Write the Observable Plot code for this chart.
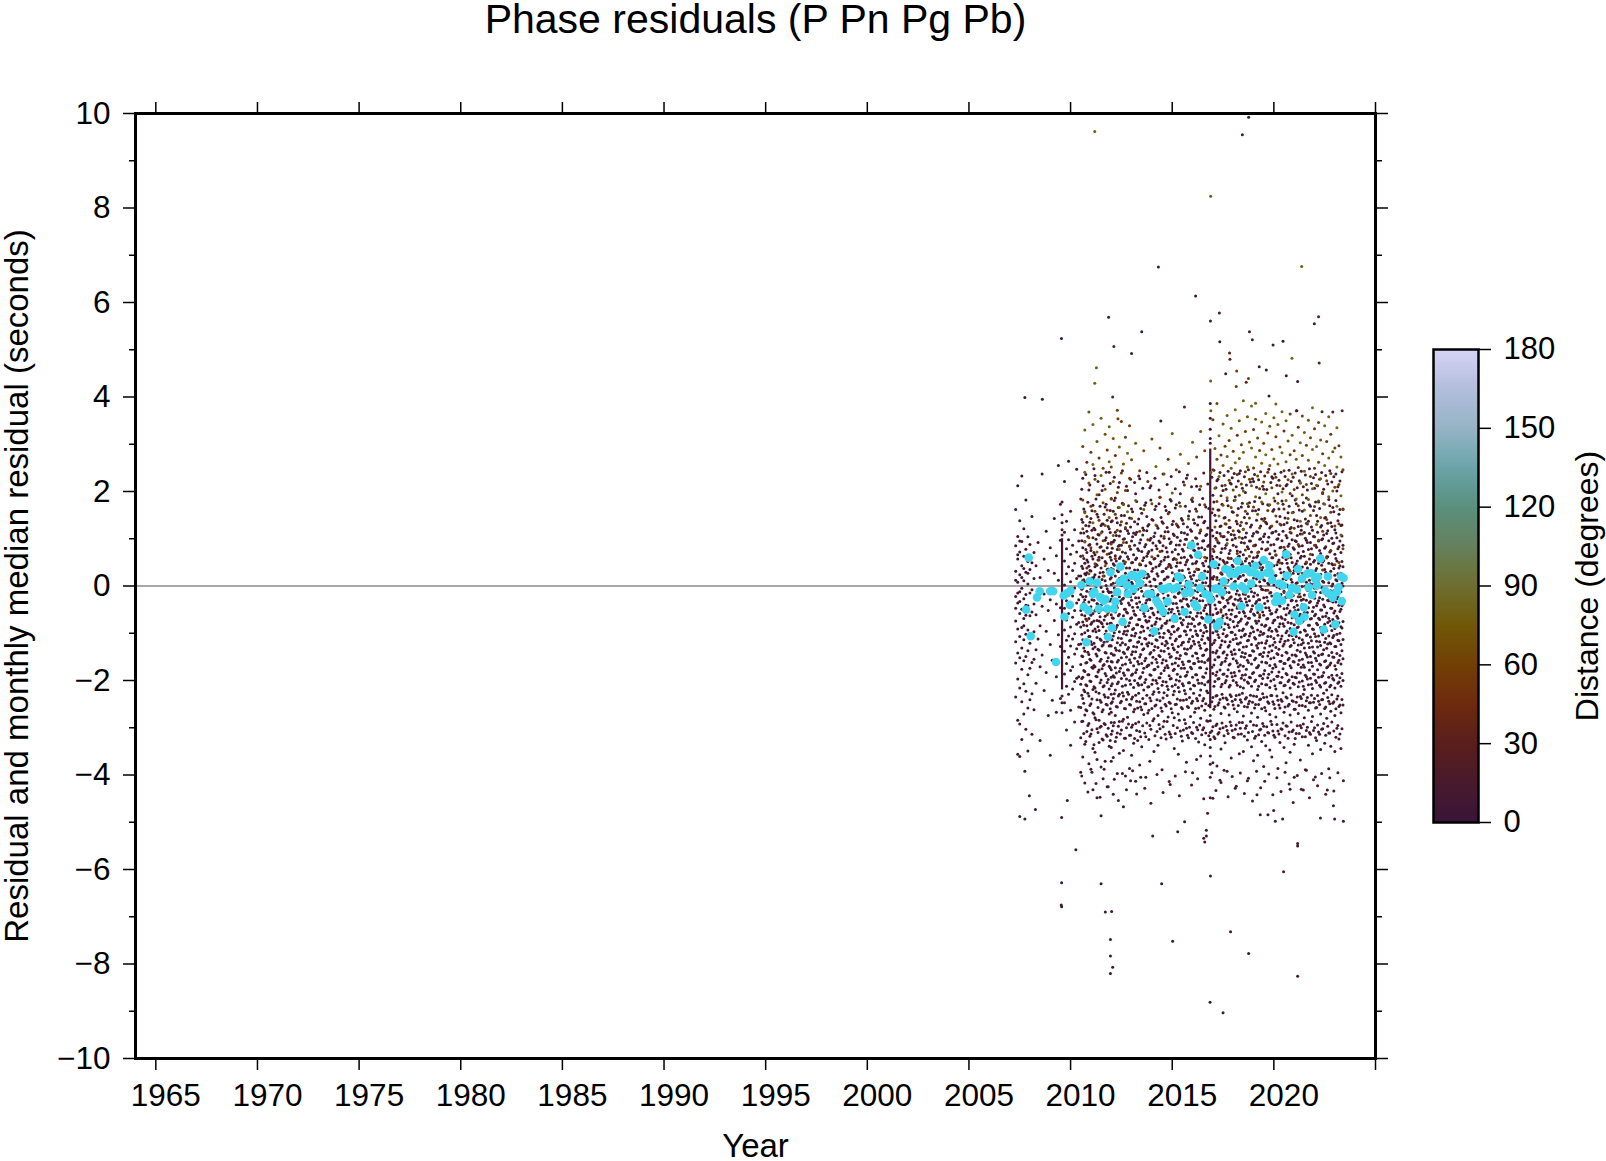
<!DOCTYPE html>
<html><head><meta charset="utf-8">
<script src="https://cdn.jsdelivr.net/npm/d3@7"></script>
<script src="https://cdn.jsdelivr.net/npm/@observablehq/plot@0.6"></script>
<style>
html,body{margin:0;padding:0;background:#fff;}
#wrap{position:relative;width:1606px;height:1161px;overflow:hidden;background:#fff;}
#main{position:absolute;left:0;top:0;}
#bar{position:absolute;left:1406px;top:320px;}
</style></head><body><div id="wrap"><div id="main"></div><div id="bar"></div></div>
<script>
const chartTitle = "Phase residuals (P Pn Pg Pb)";
const xLabel = "Year";
const yLabel = "Residual and monthly median residual (seconds)";
const colorLabel = "Distance (degrees)";
const xTicks = [1965,1970,1975,1980,1985,1990,1995,2000,2005,2010,2015,2020,2025];
const yMajorTicks = [-10,-8,-6,-4,-2,0,2,4,6,8,10];
const yMinorTicks = [-9,-7,-5,-3,-1,1,3,5,7,9];
const colorTicks = [0,30,60,90,120,150,180];
const distanceStops = [0,15,30,45,60,75,90,105,120,135,150,165,180];
const distanceColors = ["#3a1438","#481a2c","#5a1e1c","#6e2a0e","#723f04","#705808","#6e6e30","#65805c","#5a907e","#6aa4a8","#96b4c6","#b2bedb","#d7d3f8"];

// monthly median residuals [year, seconds]
const monthlyMedians = [
[2007.81,-0.50],[2007.94,0.60],[2008.04,-1.06],[2008.35,-0.24],[2008.48,-0.11],[2009.00,-0.11],[2009.14,-0.11],[2009.28,-1.61],
[2009.66,-0.20],[2009.70,-0.65],[2009.83,-0.15],[2009.96,-0.40],[2009.99,-0.10],[2010.53,0.02],[2010.65,-0.44],[2010.78,-1.19],
[2010.88,-0.52],[2010.94,0.10],[2011.10,-0.17],[2011.17,-0.12],[2011.30,0.07],[2011.39,-0.48],[2011.46,-0.24],[2011.63,-0.31],
[2011.72,-0.28],[2011.80,-0.48],[2011.84,-1.08],[2011.96,0.29],[2012.04,-0.89],[2012.12,-0.48],[2012.20,-0.33],[2012.29,-0.13],
[2012.42,0.08],[2012.45,0.41],[2012.56,-0.76],[2012.61,0.15],[2012.78,0.01],[2012.81,-0.17],[2012.98,0.22],[2013.10,-0.06],
[2013.14,0.22],[2013.27,0.19],[2013.40,0.06],[2013.52,0.26],[2013.63,-0.47],[2013.80,-0.17],[2013.96,-0.17],[2014.12,-0.96],
[2014.22,-0.31],[2014.33,-0.38],[2014.42,-0.45],[2014.50,-0.06],[2014.55,-0.55],[2014.66,-0.06],[2014.77,-0.33],[2014.83,-0.03],
[2015.07,-0.06],[2015.12,-0.69],[2015.24,-0.03],[2015.29,0.20],[2015.40,0.17],[2015.61,-0.55],[2015.64,-0.15],[2015.81,0.03],
[2015.89,-0.13],[2015.94,0.86],[2016.10,-0.38],[2016.22,-0.45],[2016.27,0.66],[2016.38,-0.04],[2016.47,0.20],[2016.63,-0.17],
[2016.77,-0.71],[2016.80,-0.20],[2016.88,-0.29],[2017.04,0.46],[2017.12,-0.06],[2017.20,-0.85],[2017.29,-0.06],[2017.33,-0.76],
[2017.45,-0.13],[2017.53,0.10],[2017.61,0.36],[2017.78,0.33],[2017.86,0.26],[2018.02,-0.01],[2018.10,0.26],[2018.22,0.53],
[2018.27,0.33],[2018.40,-0.43],[2018.44,-0.01],[2018.52,0.36],[2018.60,-0.08],[2018.68,0.36],[2018.84,0.29],[2018.89,0.05],
[2019.09,0.43],[2019.12,0.26],[2019.28,-0.45],[2019.33,0.22],[2019.50,0.55],[2019.66,0.28],[2019.78,0.43],[2019.83,0.28],
[2019.91,0.13],[2020.07,-0.34],[2020.15,-0.22],[2020.24,-0.31],[2020.27,0.05],[2020.40,-0.31],[2020.45,0.01],[2020.61,0.67],
[2020.64,0.22],[2020.77,-0.19],[2020.89,-0.04],[2020.97,-0.97],[2021.02,-0.61],[2021.13,-0.08],[2021.19,0.36],[2021.25,-0.74],
[2021.38,0.15],[2021.47,-0.45],[2021.51,-0.65],[2021.63,0.26],[2021.71,-0.03],[2021.84,0.27],[2021.88,-0.19],[2022.04,0.15],
[2022.12,0.01],[2022.17,0.19],[2022.29,0.58],[2022.45,-0.92],[2022.53,-0.10],[2022.66,0.20],[2022.73,-0.17],[2022.89,-0.25],
[2023.02,-0.81],[2023.10,-0.13],[2023.18,-0.03],[2023.31,0.20],[2023.34,-0.32],[2023.43,0.17]
];

// dense vertical clusters of picks [year, low, high, distance]
const streaks = [[2009.58,-2.2,1.0,5],[2016.87,-2.6,2.9,5]];

// near-station residuals (distance ~8 deg), by time column [year, residuals]
const nearColumns = [
[2007.3,[1.62,0.85,0.31,-0.22,-0.74,-1.18,-1.63,-2.35,-0.47,0.12]],
[2007.4,[2.12,1.05,0.57,0.08,-0.36,-0.91,-1.42,-1.97,-2.84,-3.56,0.66,-0.15]],
[2007.5,[1.38,0.72,0.24,-0.12,-0.58,-1.07,-1.52,-2.16,-2.92,-3.61,0.95,-0.33]],
[2007.6,[2.33,0.94,0.43,-0.05,-0.49,-0.88,-1.31,-1.76,-2.45,-3.25,0.18]],
[2007.7,[1.21,0.63,0.11,-0.27,-0.69,-1.14,-1.58,-2.07,-2.71,0.37,-0.84]],
[2007.8,[1.82,0.78,0.29,-0.18,-0.62,-1.02,-1.49,-2.23,-3.03,-0.41]],
[2007.9,[1.04,0.52,0.04,-0.42,-0.93,-1.37,-1.88,-2.58,-3.49,0.27]],
[2008.0,[0.88,0.35,-0.15,-0.63,-1.21,-1.74,-2.41,0.62]],
[2008.1,[1.47,0.49,-0.08,-0.55,-1.03,-1.62,-2.28,-3.14]],
[2008.2,[0.71,0.16,-0.38,-0.97,-1.55,-2.62]],
[2008.3,[0.43,-0.61,-1.35,-2.06]],
[2008.4,[0.92,-0.22,-1.12]],
[2008.5,[0.18,-0.84,-1.71,-3.27]],
[2008.6,[2.37,-0.43,-1.46]],
[2008.7,[0.57,-0.17,-2.21]],
[2008.8,[1.16,-0.96,-1.83]],
[2008.9,[0.33,-0.52,-2.74]],
[2009.0,[0.81,-0.29,-1.24,-3.58]],
[2009.1,[-0.06,-1.57,-2.42]],
[2009.2,[1.43,0.27,-0.73]],
[2009.3,[0.64,-0.38,-1.92,-2.67]],
[2009.4,[2.55,0.12,-1.03,-1.61]],
[2009.5,[0.97,-0.46,-1.28,-2.38,1.73]],
[2009.58,[1.78,1.51,1.34,1.19,1.08,-2.33,-2.47,-2.68]],
[2009.7,[2.21,1.14,0.53,0.02,-0.47,-0.93,-1.38,-1.86,-2.47]],
[2009.8,[1.37,0.79,0.26,-0.31,-0.72,-1.15,-1.64,-2.12,-3.05]],
[2009.9,[2.64,0.98,0.41,-0.13,-0.58,-1.06,-1.51,-2.29]],
[2010.0,[1.58,0.67,0.09,-0.44,-0.87,-1.27,-1.79,-2.63,-3.37]],
[2010.1,[0.86,0.33,-0.21,-0.66,-1.12,-1.71,-2.18]],
[2010.2,[1.19,0.48,-0.04,-0.52,-1.01,-1.44,-2.02,-2.88]],
[2010.3,[2.47,0.72,0.16,-0.36,-0.81,-1.33,-1.95]],
[2010.4,[0.95,0.21,-0.29,-0.77,-1.24,-1.92,-2.56]],
[2010.5,[1.84,1.12,0.63,0.21,-0.18,-0.52,-0.87,-1.23,-1.66,-2.08,-2.57,-3.21,-3.94]],
[2010.6,[2.28,1.35,0.81,0.37,-0.04,-0.41,-0.76,-1.14,-1.49,-1.93,-2.38,-2.86,-3.62,-0.23]],
[2010.7,[1.57,0.94,0.48,0.09,-0.29,-0.63,-0.99,-1.38,-1.81,-2.24,-2.73,-3.35,-4.17,0.26]],
[2010.8,[1.16,0.71,0.28,-0.11,-0.47,-0.84,-1.21,-1.62,-2.11,-2.64,-3.08,0.55]],
[2010.9,[2.03,1.27,0.86,0.42,0.03,-0.34,-0.69,-1.07,-1.45,-1.88,-2.33,-2.91,-3.76]],
[2011.0,[1.43,0.75,0.32,-0.07,-0.44,-0.81,-1.18,-1.57,-2.02,-2.49,-3.13,-3.88,-0.62]],
[2011.1,[1.71,1.02,0.57,0.15,-0.22,-0.58,-0.95,-1.33,-1.74,-2.19,-2.68,-3.44,-4.31]],
[2011.2,[2.34,1.19,0.66,0.24,-0.16,-0.53,-0.91,-1.29,-1.71,-2.16,-2.79,-3.52,0.41]],
[2011.3,[1.52,0.89,0.44,0.02,-0.37,-0.73,-1.09,-1.48,-1.92,-2.41,-3.02,-3.67,-4.48]],
[2011.4,[1.93,1.08,0.61,0.19,-0.2,-0.56,-0.94,-1.36,-1.78,-2.27,-2.84,-3.31,-0.74]],
[2011.5,[1.28,0.83,0.38,-0.03,-0.41,-0.77,-1.15,-1.55,-1.99,-2.46,-2.97,-3.83]],
[2011.6,[2.12,1.31,0.74,0.29,-0.12,-0.49,-0.86,-1.25,-1.68,-2.13,-2.62,-3.26,-4.08]],
[2011.7,[1.67,0.97,0.52,0.11,-0.27,-0.64,-1.02,-1.41,-1.85,-2.35,-2.93,-3.71]],
[2011.8,[1.39,0.81,0.35,-0.06,-0.43,-0.8,-1.17,-1.59,-2.04,-2.52,-3.18,-4.25]],
[2011.9,[2.41,1.21,0.68,0.26,-0.14,-0.51,-0.89,-1.27,-1.7,-2.18,-2.71,-3.39,-0.32]],
[2012.0,[0.92,0.71,0.55,0.37,0.18,0.03,-0.13,-0.28,-0.46,-0.61,-0.79,-0.94,-1.12,-1.27,-1.43,-1.6,-1.77,-1.93,-2.11,-2.29,-2.48,-2.67,-2.89,-3.14,-3.42,-3.71,1.36,1.84]],
[2012.1,[1.58,0.93,0.47,0.06,-0.32,-0.68,-1.06,-1.46,-1.9,-2.38,-2.96,-3.63,-4.41]],
[2012.2,[1.86,1.14,0.64,0.21,-0.18,-0.55,-0.92,-1.31,-1.73,-2.2,-2.74,-3.29]],
[2012.3,[1.34,0.77,0.33,-0.08,-0.46,-0.83,-1.2,-1.61,-2.07,-2.56,-3.11,-3.97]],
[2012.4,[2.19,1.06,0.58,0.16,-0.23,-0.6,-0.97,-1.37,-1.81,-2.29,-2.87,-3.54,0.86]],
[2012.5,[1.49,0.86,0.41,0.01,-0.37,-0.74,-1.11,-1.52,-1.96,-2.44,-3.05]],
[2012.6,[1.73,0.99,0.53,0.12,-0.26,-0.63,-1.01,-1.4,-1.84,-2.33,-2.82,-3.48]],
[2012.7,[1.21,0.7,0.27,-0.12,-0.49,-0.86,-1.24,-1.65,-2.1,-2.6,-3.22,-4.02]],
[2012.8,[2.02,1.17,0.62,0.19,-0.2,-0.57,-0.95,-1.34,-1.77,-2.25,-2.78]],
[2012.9,[1.44,0.84,0.38,-0.03,-0.4,-0.78,-1.16,-1.56,-2.0,-2.51,-3.16,-3.86]],
[2013.0,[1.63,0.95,0.49,0.08,-0.3,-0.67,-1.05,-1.45,-1.89,-2.39,-2.99,-3.58]],
[2013.1,[1.12,0.66,0.23,-0.16,-0.53,-0.9,-1.28,-1.69,-2.15,-2.66,-3.33]],
[2013.2,[1.95,1.09,0.56,0.14,-0.25,-0.62,-1.0,-1.39,-1.83,-2.31,-2.91,-4.13]],
[2013.3,[1.31,0.79,0.34,-0.07,-0.45,-0.82,-1.19,-1.6,-2.06,-2.58,-3.27]],
[2013.4,[2.27,0.91,0.45,0.04,-0.34,-0.71,-1.09,-1.5,-1.95,-2.45,-3.08,-3.79]],
[2013.5,[1.54,0.73,0.29,-0.11,-0.48,-0.85,-1.23,-1.64,-2.09,-2.62,-3.4]],
[2013.6,[1.18,0.6,0.18,-0.21,-0.58,-0.95,-1.33,-1.74,-2.2,-2.72]],
[2013.7,[1.76,0.88,0.43,0.02,-0.36,-0.73,-1.12,-1.53,-1.98,-2.49,-3.19,-4.05]],
[2013.8,[1.27,0.69,0.25,-0.15,-0.52,-0.89,-1.27,-1.68,-2.14,-2.69]],
[2013.9,[2.08,0.97,0.5,0.09,-0.29,-0.66,-1.04,-1.44,-1.88,-2.37,-2.95,-3.71]],
[2014.0,[1.41,0.76,0.31,-0.09,-0.47,-0.84,-1.22,-1.63,-2.08,-2.59]],
[2014.1,[1.05,0.57,0.15,-0.24,-0.61,-0.98,-1.36,-1.77,-2.24,-2.81,-3.5]],
[2014.2,[1.69,0.85,0.4,-0.01,-0.39,-0.76,-1.14,-1.55,-2.0,-2.52]],
[2014.3,[1.22,0.64,0.21,-0.18,-0.55,-0.92,-1.3,-1.71,-2.17,-2.74,-3.37]],
[2014.4,[1.88,0.92,0.46,0.05,-0.33,-0.7,-1.08,-1.49,-1.94,-2.43,-3.02]],
[2014.5,[1.36,0.74,0.3,-0.1,-0.47,-0.84,-1.22,-1.63,-2.1,-2.65,-3.89]],
[2014.6,[1.01,0.55,0.13,-0.26,-0.63,-1.0,-1.38,-1.79,-2.26,-2.86]],
[2014.7,[1.6,0.81,0.37,-0.04,-0.42,-0.79,-1.17,-1.58,-2.03,-2.54,-3.24]],
[2014.8,[1.15,0.62,0.19,-0.2,-0.57,-0.94,-1.32,-1.73,-2.19,-2.77]],
[2014.9,[1.83,0.9,0.44,0.03,-0.35,-0.72,-1.1,-1.51,-1.97,-2.48,-3.14,-4.2]],
[2015.0,[1.3,0.72,0.28,-0.12,-0.49,-0.86,-1.24,-1.65,-2.12,-2.68]],
[2015.1,[1.07,0.58,0.16,-0.23,-0.6,-0.97,-1.35,-1.76,-2.23,-2.79,-3.44]],
[2015.2,[1.72,0.87,0.42,0.01,-0.37,-0.74,-1.12,-1.53,-1.99,-2.5]],
[2015.3,[1.25,0.67,0.24,-0.16,-0.53,-0.9,-1.28,-1.69,-2.15,-2.71,-3.56]],
[2015.4,[1.95,0.96,0.49,0.07,-0.31,-0.68,-1.06,-1.47,-1.92,-2.42,-3.07]],
[2015.5,[1.39,0.78,0.33,-0.07,-0.45,-0.82,-1.2,-1.61,-2.07,-2.6,-3.28]],
[2015.6,[1.12,0.61,0.18,-0.21,-0.58,-0.95,-1.33,-1.74,-2.21,-2.83]],
[2015.7,[2.28,0.99,0.51,0.1,-0.28,-0.65,-1.03,-1.44,-1.89,-2.4,-3.01,-3.73]],
[2015.8,[1.48,0.82,0.36,-0.05,-0.43,-0.8,-1.18,-1.59,-2.05,-2.57,-3.21]],
[2015.9,[1.19,0.64,0.2,-0.19,-0.56,-0.93,-1.31,-1.72,-2.18,-2.76]],
[2016.0,[1.79,0.93,0.47,0.06,-0.32,-0.69,-1.07,-1.48,-1.93,-2.44,-3.12,-3.95]],
[2016.1,[1.33,0.75,0.3,-0.1,-0.48,-0.85,-1.23,-1.64,-2.11,-2.67]],
[2016.2,[2.11,1.01,0.52,0.11,-0.27,-0.64,-1.02,-1.43,-1.88,-2.38,-2.99,-3.67]],
[2016.3,[1.46,0.8,0.35,-0.06,-0.44,-0.81,-1.19,-1.6,-2.06,-2.58,-3.3]],
[2016.4,[1.17,0.63,0.19,-0.2,-0.57,-0.94,-1.32,-1.73,-2.2,-2.8,-3.6]],
[2016.5,[1.85,0.95,0.48,0.07,-0.31,-0.68,-1.06,-1.47,-1.92,-2.43,-3.04]],
[2016.6,[1.37,0.77,0.32,-0.08,-0.46,-0.83,-1.21,-1.62,-2.09,-2.63,-3.36]],
[2016.7,[1.09,0.59,0.17,-0.22,-0.59,-0.96,-1.34,-1.75,-2.22,-2.85]],
[2016.8,[1.64,0.86,0.41,0.0,-0.38,-0.75,-1.13,-1.54,-2.01,-2.53,-3.17]],
[2016.87,[3.86,3.55,3.32,3.12,3.02,-2.74,-2.85,-3.1,-3.25,-3.42,-3.6,-3.77,-4.05,-4.48]],
[2017.0,[1.92,1.06,0.57,0.15,-0.24,-0.61,-0.99,-1.4,-1.85,-2.36,-2.98,-3.74,-4.49]],
[2017.1,[1.5,0.84,0.39,-0.02,-0.4,-0.77,-1.15,-1.56,-2.02,-2.55,-3.23]],
[2017.2,[2.23,1.13,0.61,0.18,-0.21,-0.58,-0.96,-1.37,-1.82,-2.32,-2.92,-3.81]],
[2017.3,[1.61,0.91,0.45,0.04,-0.34,-0.71,-1.09,-1.5,-1.96,-2.47,-3.1]],
[2017.4,[1.27,0.71,0.27,-0.13,-0.5,-0.87,-1.25,-1.66,-2.13,-2.7,-3.45,-4.16]],
[2017.5,[2.02,1.04,0.54,0.12,-0.26,-0.63,-1.01,-1.42,-1.87,-2.37,-3.0]],
[2017.6,[1.45,0.8,0.35,-0.05,-0.43,-0.8,-1.18,-1.59,-2.05,-2.58,-3.32]],
[2017.7,[1.81,0.98,0.5,0.08,-0.3,-0.67,-1.05,-1.46,-1.91,-2.41,-3.06,-3.92]],
[2017.8,[1.24,0.69,0.26,-0.14,-0.51,-0.88,-1.26,-1.67,-2.14,-2.73]],
[2017.9,[2.16,1.09,0.58,0.16,-0.23,-0.6,-0.98,-1.39,-1.84,-2.34,-2.95,-3.64]],
[2018.0,[1.56,0.86,0.41,0.0,-0.38,-0.75,-1.13,-1.54,-2.0,-2.52,-3.2]],
[2018.1,[1.89,1.01,0.52,0.1,-0.28,-0.65,-1.03,-1.44,-1.9,-2.4,-3.03,-4.28]],
[2018.2,[1.32,0.74,0.3,-0.1,-0.47,-0.84,-1.22,-1.63,-2.1,-2.66]],
[2018.3,[2.38,1.15,0.63,0.2,-0.19,-0.56,-0.94,-1.35,-1.8,-2.3,-2.89,-3.55]],
[2018.4,[1.67,0.92,0.46,0.05,-0.33,-0.7,-1.08,-1.49,-1.95,-2.46,-3.13]],
[2018.5,[1.2,0.66,0.23,-0.17,-0.54,-0.91,-1.29,-1.7,-2.16,-2.75,-3.5]],
[2018.6,[1.98,1.03,0.53,0.11,-0.27,-0.64,-1.02,-1.43,-1.88,-2.39,-3.01]],
[2018.7,[1.53,0.83,0.38,-0.03,-0.41,-0.78,-1.16,-1.57,-2.03,-2.56,-3.26,-4.12]],
[2018.8,[1.76,0.95,0.48,0.07,-0.31,-0.68,-1.06,-1.47,-1.93,-2.44]],
[2018.9,[1.29,0.72,0.28,-0.12,-0.49,-0.86,-1.24,-1.65,-2.12,-2.69,-3.4]],
[2019.0,[2.21,1.11,0.6,0.17,-0.22,-0.59,-0.97,-1.38,-1.83,-2.33,-2.94,-3.7]],
[2019.1,[1.59,0.87,0.42,0.01,-0.37,-0.74,-1.12,-1.53,-1.99,-2.51,-3.18]],
[2019.2,[1.14,0.64,0.21,-0.19,-0.56,-0.93,-1.31,-1.72,-2.19,-2.78,-3.58]],
[2019.3,[1.87,0.99,0.5,0.09,-0.29,-0.66,-1.04,-1.45,-1.9,-2.41,-3.05]],
[2019.4,[1.42,0.79,0.34,-0.07,-0.45,-0.82,-1.2,-1.61,-2.07,-2.6,-3.29]],
[2019.5,[2.05,1.05,0.55,0.13,-0.25,-0.62,-1.0,-1.41,-1.86,-2.36,-2.97,-3.82]],
[2019.6,[1.35,0.76,0.32,-0.09,-0.46,-0.83,-1.21,-1.62,-2.09,-2.64,-3.38]],
[2019.7,[1.72,0.93,0.47,0.06,-0.32,-0.69,-1.07,-1.48,-1.94,-2.45,-3.1]],
[2019.8,[1.23,0.68,0.25,-0.15,-0.52,-0.89,-1.27,-1.68,-2.15,-2.72,-3.47]],
[2019.9,[2.31,1.12,0.6,0.18,-0.21,-0.58,-0.96,-1.37,-1.82,-2.32,-2.93,-3.62]],
[2020.0,[1.62,0.88,0.43,0.02,-0.36,-0.73,-1.11,-1.52,-1.98,-2.5,-3.16]],
[2020.1,[1.16,0.65,0.22,-0.18,-0.55,-0.92,-1.3,-1.71,-2.18,-2.77]],
[2020.2,[1.95,1.0,0.51,0.09,-0.29,-0.66,-1.04,-1.45,-1.91,-2.42,-3.07,-3.86]],
[2020.3,[1.47,0.81,0.36,-0.05,-0.43,-0.8,-1.18,-1.59,-2.05,-2.58,-3.31]],
[2020.4,[1.8,0.96,0.48,0.07,-0.31,-0.68,-1.06,-1.47,-1.93,-2.44,-3.03]],
[2020.5,[1.3,0.73,0.29,-0.11,-0.48,-0.85,-1.23,-1.64,-2.11,-2.67,-3.42]],
[2020.6,[2.12,1.07,0.56,0.14,-0.24,-0.61,-0.99,-1.4,-1.85,-2.35,-2.96,-3.74]],
[2020.7,[1.55,0.84,0.39,-0.02,-0.4,-0.77,-1.15,-1.56,-2.02,-2.54,-3.22]],
[2020.8,[1.21,0.67,0.24,-0.16,-0.53,-0.9,-1.28,-1.69,-2.16,-2.73,-3.52,-4.3]],
[2020.9,[1.91,0.98,0.5,0.08,-0.3,-0.67,-1.05,-1.46,-1.92,-2.43,-3.08]],
[2021.0,[1.4,0.78,0.33,-0.08,-0.45,-0.82,-1.2,-1.61,-2.08,-2.61,-3.35,-4.05]],
[2021.1,[1.74,0.94,0.47,0.06,-0.32,-0.69,-1.07,-1.48,-1.94,-2.46,-3.12]],
[2021.2,[1.26,0.7,0.26,-0.13,-0.5,-0.87,-1.25,-1.66,-2.13,-2.7]],
[2021.3,[2.18,1.1,0.59,0.16,-0.23,-0.6,-0.98,-1.39,-1.84,-2.34,-2.95,-3.68]],
[2021.4,[1.58,0.85,0.4,-0.01,-0.39,-0.76,-1.14,-1.55,-2.01,-2.53,-3.19]],
[2021.5,[1.13,0.63,0.2,-0.19,-0.56,-0.93,-1.31,-1.72,-2.19,-2.79]],
[2021.6,[1.86,0.97,0.49,0.08,-0.3,-0.67,-1.05,-1.46,-1.92,-2.43,-3.06,-3.9]],
[2021.7,[1.37,0.77,0.32,-0.09,-0.46,-0.83,-1.21,-1.62,-2.09,-2.63,-3.37]],
[2021.8,[1.69,0.92,0.46,0.05,-0.33,-0.7,-1.08,-1.49,-1.95,-2.47,-3.14]],
[2021.9,[1.18,0.66,0.22,-0.17,-0.54,-0.91,-1.29,-1.7,-2.17,-2.76,-3.55]],
[2022.0,[2.07,1.04,0.54,0.12,-0.26,-0.63,-1.01,-1.42,-1.87,-2.38,-3.0]],
[2022.1,[1.49,0.82,0.37,-0.04,-0.42,-0.79,-1.17,-1.58,-2.04,-2.57,-3.27]],
[2022.2,[1.78,0.95,0.48,0.07,-0.31,-0.68,-1.06,-1.47,-1.93,-2.44,-3.09]],
[2022.3,[1.25,0.69,0.25,-0.14,-0.51,-0.88,-1.26,-1.67,-2.14,-2.71,-3.46]],
[2022.4,[1.96,1.0,0.51,0.1,-0.28,-0.65,-1.03,-1.44,-1.9,-2.4,-3.02]],
[2022.5,[1.44,0.8,0.35,-0.06,-0.44,-0.81,-1.19,-1.6,-2.06,-2.59,-3.33]],
[2022.6,[1.11,0.62,0.19,-0.2,-0.57,-0.94,-1.32,-1.73,-2.2,-2.8]],
[2022.7,[1.83,0.96,0.48,0.07,-0.31,-0.68,-1.06,-1.47,-1.93,-2.44,-3.11,-3.87]],
[2022.8,[1.34,0.75,0.31,-0.1,-0.47,-0.84,-1.22,-1.63,-2.1,-2.65,-3.39]],
[2022.9,[1.66,0.9,0.45,0.04,-0.34,-0.71,-1.09,-1.5,-1.96,-2.48]],
[2023.0,[1.19,0.67,0.23,-0.16,-0.53,-0.9,-1.28,-1.69,-2.16,-2.74,-3.5]],
[2023.1,[2.01,1.02,0.53,0.11,-0.27,-0.64,-1.02,-1.43,-1.89,-2.39,-3.01]],
[2023.2,[1.52,0.83,0.38,-0.03,-0.41,-0.78,-1.16,-1.57,-2.03,-2.55,-3.24]],
[2023.3,[1.28,0.71,0.27,-0.12,-0.49,-0.86,-1.24,-1.65,-2.12,-2.68,-3.44]],
[2023.4,[1.63,0.86,0.41,0.0,-0.38,-0.75,-1.13,-1.54,-2.0,-2.52]]
];

// extra near-station residuals in the dense core (distance ~12 deg)
const coreColumns = [
[2010.55,[0.96,0.42,-0.07,-0.61,-1.02,-1.48,-1.96]],[2010.65,[1.12,0.58,0.13,-0.35,-0.83,-1.31,-1.79]],
[2010.75,[0.77,0.24,-0.22,-0.7,-1.16,-1.63,-2.09]],[2010.85,[1.05,0.51,0.03,-0.46,-0.94,-1.4,-1.88]],
[2010.95,[0.88,0.33,-0.14,-0.58,-1.07,-1.55,-2.01]],[2011.05,[1.18,0.63,0.17,-0.29,-0.77,-1.24,-1.72]],
[2011.15,[0.71,0.19,-0.3,-0.74,-1.21,-1.68,-2.13]],[2011.25,[0.99,0.46,-0.02,-0.51,-0.97,-1.44,-1.91]],
[2011.35,[1.09,0.55,0.09,-0.39,-0.86,-1.34,-1.82]],[2011.45,[0.82,0.28,-0.18,-0.65,-1.12,-1.59,-2.05]],
[2011.55,[1.15,0.6,0.14,-0.33,-0.8,-1.27,-1.75]],[2011.65,[0.74,0.21,-0.26,-0.72,-1.19,-1.66,-2.11]],
[2011.75,[1.02,0.48,0.01,-0.48,-0.95,-1.42,-1.9]],[2011.85,[0.9,0.36,-0.11,-0.56,-1.04,-1.52,-1.98]],
[2011.95,[1.13,0.61,0.15,-0.31,-0.79,-1.26,-1.73]],[2012.05,[0.8,0.26,-0.21,-0.67,-1.14,-1.61,-2.07]],
[2012.15,[0.97,0.44,-0.04,-0.53,-0.99,-1.46,-1.93]],[2012.25,[1.07,0.53,0.07,-0.41,-0.88,-1.36,-1.84]],
[2012.35,[0.84,0.3,-0.16,-0.63,-1.1,-1.57,-2.03]],[2012.45,[1.16,0.62,0.16,-0.32,-0.78,-1.25,-1.74]],
[2012.55,[0.72,0.2,-0.28,-0.73,-1.2,-1.67,-2.12]],[2012.65,[1.0,0.47,0.0,-0.49,-0.96,-1.43,-1.89]],
[2012.75,[0.92,0.38,-0.09,-0.55,-1.03,-1.5,-1.97]],[2012.85,[1.11,0.57,0.12,-0.36,-0.84,-1.3,-1.78]],
[2012.95,[0.78,0.25,-0.23,-0.69,-1.15,-1.62,-2.08]],[2013.05,[1.04,0.5,0.04,-0.45,-0.92,-1.39,-1.86]],
[2013.15,[0.86,0.34,-0.13,-0.6,-1.06,-1.53,-2.0]],[2013.25,[1.14,0.59,0.11,-0.37,-0.82,-1.29,-1.77]],
[2013.35,[0.75,0.22,-0.25,-0.71,-1.18,-1.65,-2.1]],[2013.45,[0.98,0.45,-0.03,-0.5,-0.98,-1.45,-1.92]],
[2013.55,[1.08,0.54,0.08,-0.4,-0.87,-1.35,-1.83]],[2013.65,[0.83,0.29,-0.17,-0.64,-1.11,-1.58,-2.04]],
[2013.75,[1.17,0.63,0.17,-0.3,-0.76,-1.23,-1.71]],[2013.85,[0.73,0.2,-0.27,-0.74,-1.2,-1.67,-2.13]],
[2013.95,[1.01,0.47,0.0,-0.47,-0.94,-1.41,-1.89]],[2014.05,[0.91,0.37,-0.1,-0.57,-1.05,-1.51,-1.99]],
[2014.15,[1.12,0.58,0.13,-0.34,-0.81,-1.28,-1.76]],[2014.25,[0.79,0.26,-0.22,-0.68,-1.15,-1.62,-2.06]],
[2014.35,[0.95,0.43,-0.05,-0.54,-1.0,-1.47,-1.94]],[2014.45,[1.06,0.52,0.06,-0.42,-0.89,-1.37,-1.85]],
[2014.55,[0.85,0.31,-0.15,-0.62,-1.09,-1.56,-2.02]],[2014.65,[1.15,0.61,0.15,-0.33,-0.79,-1.26,-1.73]],
[2014.75,[0.72,0.19,-0.29,-0.74,-1.21,-1.68,-2.12]],[2014.85,[1.0,0.46,-0.01,-0.49,-0.97,-1.44,-1.9]],
[2014.95,[0.93,0.39,-0.08,-0.55,-1.02,-1.49,-1.96]],[2015.05,[1.1,0.56,0.11,-0.37,-0.85,-1.31,-1.79]],
[2015.15,[0.77,0.24,-0.24,-0.7,-1.16,-1.63,-2.09]],[2015.25,[1.03,0.49,0.03,-0.46,-0.93,-1.4,-1.87]],
[2015.35,[0.87,0.33,-0.14,-0.59,-1.07,-1.54,-2.01]],[2015.45,[1.13,0.6,0.14,-0.32,-0.78,-1.25,-1.74]],
[2015.55,[0.74,0.21,-0.27,-0.72,-1.19,-1.66,-2.11]],[2015.65,[0.99,0.45,-0.02,-0.5,-0.96,-1.43,-1.91]],
[2015.75,[1.09,0.55,0.09,-0.39,-0.86,-1.34,-1.82]],[2015.85,[0.82,0.28,-0.18,-0.65,-1.12,-1.59,-2.05]],
[2015.95,[1.16,0.61,0.15,-0.31,-0.8,-1.27,-1.75]],[2016.05,[0.76,0.23,-0.25,-0.71,-1.17,-1.64,-2.1]],
[2016.15,[1.02,0.48,0.02,-0.47,-0.95,-1.42,-1.88]],[2016.25,[0.89,0.35,-0.12,-0.57,-1.05,-1.53,-1.99]],
[2016.35,[1.12,0.6,0.14,-0.31,-0.79,-1.26,-1.73]],[2016.45,[0.81,0.27,-0.2,-0.66,-1.13,-1.6,-2.06]],
[2016.55,[0.96,0.43,-0.05,-0.52,-0.99,-1.46,-1.93]],[2016.65,[1.07,0.53,0.07,-0.41,-0.88,-1.36,-1.84]],
[2016.75,[0.84,0.3,-0.16,-0.63,-1.1,-1.57,-2.03]],[2016.95,[1.18,0.63,0.17,-0.3,-0.76,-1.24,-1.72]],
[2017.05,[0.73,0.2,-0.28,-0.73,-1.2,-1.67,-2.12]],[2017.15,[1.01,0.47,0.0,-0.48,-0.95,-1.42,-1.89]],
[2017.25,[0.92,0.38,-0.09,-0.56,-1.03,-1.5,-1.97]],[2017.35,[1.11,0.57,0.12,-0.35,-0.83,-1.3,-1.78]],
[2017.45,[0.79,0.25,-0.23,-0.69,-1.16,-1.62,-2.08]],[2017.55,[1.05,0.51,0.04,-0.45,-0.92,-1.39,-1.86]],
[2017.65,[0.86,0.33,-0.13,-0.6,-1.07,-1.53,-2.0]],[2017.75,[1.14,0.59,0.12,-0.36,-0.82,-1.29,-1.77]],
[2017.85,[0.75,0.22,-0.25,-0.71,-1.18,-1.65,-2.1]],[2017.95,[0.98,0.44,-0.03,-0.51,-0.98,-1.45,-1.92]],
[2018.05,[1.08,0.54,0.08,-0.4,-0.87,-1.35,-1.83]],[2018.15,[0.83,0.29,-0.17,-0.64,-1.11,-1.58,-2.04]],
[2018.25,[1.17,0.62,0.16,-0.3,-0.77,-1.23,-1.71]],[2018.35,[0.72,0.2,-0.27,-0.74,-1.2,-1.67,-2.13]],
[2018.45,[1.01,0.47,0.0,-0.47,-0.94,-1.41,-1.89]],[2018.55,[0.91,0.37,-0.1,-0.57,-1.05,-1.51,-1.99]],
[2018.65,[1.12,0.58,0.13,-0.34,-0.81,-1.28,-1.76]],[2018.75,[0.79,0.26,-0.22,-0.68,-1.15,-1.62,-2.06]],
[2018.85,[0.95,0.43,-0.05,-0.54,-1.0,-1.47,-1.94]],[2018.95,[1.06,0.52,0.06,-0.42,-0.89,-1.37,-1.85]],
[2019.05,[0.85,0.31,-0.15,-0.62,-1.09,-1.56,-2.02]],[2019.15,[1.15,0.61,0.15,-0.33,-0.79,-1.26,-1.73]],
[2019.25,[0.72,0.19,-0.29,-0.74,-1.21,-1.68,-2.12]],[2019.35,[1.0,0.46,-0.01,-0.49,-0.97,-1.44,-1.9]],
[2019.45,[0.93,0.39,-0.08,-0.55,-1.02,-1.49,-1.96]],[2019.55,[1.1,0.56,0.11,-0.37,-0.85,-1.31,-1.79]],
[2019.65,[0.77,0.24,-0.24,-0.7,-1.16,-1.63,-2.09]],[2019.75,[1.03,0.49,0.03,-0.46,-0.93,-1.4,-1.87]],
[2019.85,[0.87,0.33,-0.14,-0.59,-1.07,-1.54,-2.01]],[2019.95,[1.13,0.6,0.14,-0.32,-0.78,-1.25,-1.74]],
[2020.05,[0.74,0.21,-0.27,-0.72,-1.19,-1.66,-2.11]],[2020.15,[0.99,0.45,-0.02,-0.5,-0.96,-1.43,-1.91]],
[2020.25,[1.09,0.55,0.09,-0.39,-0.86,-1.34,-1.82]],[2020.35,[0.82,0.28,-0.18,-0.65,-1.12,-1.59,-2.05]],
[2020.45,[1.16,0.61,0.15,-0.31,-0.8,-1.27,-1.75]],[2020.55,[0.76,0.23,-0.25,-0.71,-1.17,-1.64,-2.1]],
[2020.65,[1.02,0.48,0.02,-0.47,-0.95,-1.42,-1.88]],[2020.75,[0.89,0.35,-0.12,-0.57,-1.05,-1.53,-1.99]],
[2020.85,[1.12,0.6,0.14,-0.31,-0.79,-1.26,-1.73]],[2020.95,[0.81,0.27,-0.2,-0.66,-1.13,-1.6,-2.06]],
[2021.05,[0.96,0.43,-0.05,-0.52,-0.99,-1.46,-1.93]],[2021.15,[1.07,0.53,0.07,-0.41,-0.88,-1.36,-1.84]],
[2021.25,[0.84,0.3,-0.16,-0.63,-1.1,-1.57,-2.03]],[2021.35,[1.18,0.63,0.17,-0.3,-0.76,-1.24,-1.72]],
[2021.45,[0.73,0.2,-0.28,-0.73,-1.2,-1.67,-2.12]],[2021.55,[1.01,0.47,0.0,-0.48,-0.95,-1.42,-1.89]],
[2021.65,[0.92,0.38,-0.09,-0.56,-1.03,-1.5,-1.97]],[2021.75,[1.11,0.57,0.12,-0.35,-0.83,-1.3,-1.78]],
[2021.85,[0.79,0.25,-0.23,-0.69,-1.16,-1.62,-2.08]],[2021.95,[1.05,0.51,0.04,-0.45,-0.92,-1.39,-1.86]],
[2022.05,[0.86,0.33,-0.13,-0.6,-1.07,-1.53,-2.0]],[2022.15,[1.14,0.59,0.12,-0.36,-0.82,-1.29,-1.77]],
[2022.25,[0.75,0.22,-0.25,-0.71,-1.18,-1.65,-2.1]],[2022.35,[0.98,0.44,-0.03,-0.51,-0.98,-1.45,-1.92]],
[2022.45,[1.08,0.54,0.08,-0.4,-0.87,-1.35,-1.83]],[2022.55,[0.83,0.29,-0.17,-0.64,-1.11,-1.58,-2.04]],
[2022.65,[1.17,0.62,0.16,-0.3,-0.77,-1.23,-1.71]],[2022.75,[0.72,0.2,-0.27,-0.74,-1.2,-1.67,-2.13]],
[2022.85,[1.01,0.47,0.0,-0.47,-0.94,-1.41,-1.89]],[2022.95,[0.91,0.37,-0.1,-0.57,-1.05,-1.51,-1.99]],
[2023.05,[1.12,0.58,0.13,-0.34,-0.81,-1.28,-1.76]],[2023.15,[0.79,0.26,-0.22,-0.68,-1.15,-1.62,-2.06]],
[2023.25,[0.95,0.43,-0.05,-0.54,-1.0,-1.47,-1.94]],[2023.35,[1.06,0.52,0.06,-0.42,-0.89,-1.37,-1.85]]
];

// near-station residuals at the fringes of the core (distance ~15 deg)
const fringeColumns = [
[2010.55,[1.41,2.05,-2.31,-2.87,-4.02]],[2010.65,[1.63,-2.48,-3.12,-2.2]],[2010.75,[1.28,2.36,-2.62,-3.29]],
[2010.85,[1.77,-2.27,-2.95,-4.36]],[2010.95,[1.35,2.14,-2.53,-3.18]],[2011.05,[1.59,-2.39,-3.04,-3.94]],
[2011.15,[1.22,2.48,-2.71,-3.36]],[2011.25,[1.84,-2.24,-2.83,-4.18]],[2011.35,[1.46,2.21,-2.57,-3.1]],
[2011.45,[1.69,-2.42,-2.99,-4.47]],[2011.55,[1.31,2.02,-2.66,-3.24]],[2011.65,[1.52,-2.3,-2.91,-3.88]],
[2011.75,[1.73,2.41,-2.5,-3.15]],[2011.85,[1.26,-2.36,-3.01,-4.25]],[2011.95,[1.6,2.17,-2.6,-3.27]],
[2012.05,[1.38,-2.45,-3.07]],[2012.15,[1.81,2.3,-2.28,-2.89,-4.09]],[2012.25,[1.44,-2.55,-3.2]],
[2012.35,[1.66,2.09,-2.33,-2.97,-4.54]],[2012.45,[1.29,-2.47,-3.13]],[2012.55,[1.75,2.44,-2.26,-2.86,-3.97]],
[2012.65,[1.49,-2.59,-3.22]],[2012.75,[1.33,2.11,-2.4,-3.0,-4.31]],[2012.85,[1.7,-2.29,-2.92]],
[2012.95,[1.25,2.26,-2.52,-3.16,-4.12]],[2013.05,[1.57,-2.35,-2.94,-3.91]],[2013.15,[1.36,2.19,-2.61,-3.23]],
[2013.25,[1.79,-2.44,-3.06,-4.4]],[2013.35,[1.42,2.33,-2.27,-2.88]],[2013.45,[1.64,-2.56,-3.19,-4.05]],
[2013.55,[1.23,2.07,-2.38,-2.96]],[2013.65,[1.71,-2.49,-3.11,-4.28]],[2013.75,[1.47,2.4,-2.31,-2.9]],
[2013.85,[1.3,-2.63,-3.25]],[2013.95,[1.82,2.12,-2.43,-3.03,-4.6]],[2014.05,[1.39,-2.29,-2.85]],
[2014.15,[1.62,2.28,-2.54,-3.17]],[2014.25,[1.27,-2.41,-3.08,-3.99]],[2014.35,[1.74,2.03,-2.25,-2.93]],
[2014.45,[1.45,-2.58,-3.21]],[2014.55,[1.33,2.37,-2.37,-2.98,-4.37]],[2014.65,[1.68,-2.5,-3.14]],
[2014.75,[1.24,2.15,-2.32,-2.87]],[2014.85,[1.56,-2.46,-3.09,-4.14]],[2014.95,[1.8,2.32,-2.6,-3.2]],
[2015.05,[1.37,-2.3,-2.95]],[2015.15,[1.65,2.06,-2.51,-3.12,-4.02]],[2015.25,[1.28,-2.39,-3.0]],
[2015.35,[1.76,2.42,-2.24,-2.84,-4.44]],[2015.45,[1.43,-2.57,-3.18]],[2015.55,[1.32,2.2,-2.42,-3.05]],
[2015.65,[1.69,-2.28,-2.91,-3.93]],[2015.75,[1.25,2.35,-2.55,-3.16]],[2015.85,[1.58,-2.36,-2.99]],
[2015.95,[1.83,2.1,-2.48,-3.1,-4.21]],[2016.05,[1.4,-2.27,-2.89]],[2016.15,[1.63,2.27,-2.59,-3.23]],
[2016.25,[1.29,-2.43,-3.04,-4.08]],[2016.35,[1.72,2.04,-2.31,-2.94]],[2016.45,[1.46,-2.54,-3.15]],
[2016.55,[1.34,2.39,-2.38,-3.0,-4.5]],[2016.65,[1.67,-2.49,-3.11]],[2016.75,[1.23,2.16,-2.26,-2.86]],
[2016.95,[1.55,2.3,-2.45,-3.07,-3.95]],[2017.05,[1.78,2.45,-2.61,-3.19]],[2017.15,[1.38,2.08,-2.33,-2.95,-4.33]],
[2017.25,[1.61,2.26,-2.52,-3.13]],[2017.35,[1.26,2.4,-2.4,-3.02,-4.11]],[2017.45,[1.73,2.12,-2.29,-2.9]],
[2017.55,[1.44,2.34,-2.56,-3.17,-3.9]],[2017.65,[1.31,2.05,-2.37,-2.97]],[2017.75,[1.7,2.43,-2.5,-3.12,-4.46]],
[2017.85,[1.24,2.18,-2.3,-2.88]],[2017.95,[1.57,2.29,-2.44,-3.06,-4.03]],[2018.05,[1.81,2.38,-2.6,-3.21]],
[2018.15,[1.37,2.1,-2.32,-2.94,-4.24]],[2018.25,[1.64,2.22,-2.53,-3.14]],[2018.35,[1.28,2.44,-2.41,-3.01,-3.96]],
[2018.45,[1.75,2.07,-2.27,-2.89]],[2018.55,[1.45,2.31,-2.55,-3.18,-4.39]],[2018.65,[1.33,2.14,-2.36,-2.96]],
[2018.75,[1.68,2.46,-2.49,-3.1,-4.07]],[2018.85,[1.25,2.2,-2.31,-2.87]],[2018.95,[1.59,2.27,-2.46,-3.08,-4.55]],
[2019.05,[1.79,2.36,-2.58,-3.22]],[2019.15,[1.39,2.09,-2.34,-2.95,-3.92]],[2019.25,[1.62,2.25,-2.51,-3.15]],
[2019.35,[1.27,2.42,-2.39,-3.03,-4.27]],[2019.45,[1.74,2.11,-2.28,-2.91]],[2019.55,[1.43,2.33,-2.57,-3.16,-4.13]],
[2019.65,[1.32,2.04,-2.35,-2.98]],[2019.75,[1.71,2.47,-2.48,-3.11,-3.98]],[2019.85,[1.26,2.19,-2.32,-2.86]],
[2019.95,[1.58,2.28,-2.45,-3.07,-4.42]],[2020.05,[1.8,2.37,-2.59,-3.2]],[2020.15,[1.36,2.13,-2.33,-2.93,-4.06]],
[2020.25,[1.63,2.24,-2.52,-3.13]],[2020.35,[1.29,2.41,-2.4,-3.02,-4.35]],[2020.45,[1.73,2.06,-2.26,-2.9]],
[2020.55,[1.44,2.32,-2.56,-3.17,-3.94]],[2020.65,[1.34,2.15,-2.37,-2.97]],[2020.75,[1.69,2.45,-2.5,-3.09,-4.19]],
[2020.85,[1.24,2.21,-2.3,-2.88]],[2020.95,[1.56,2.3,-2.44,-3.05,-4.58]],[2021.05,[1.82,2.39,-2.61,-3.23]],
[2021.15,[1.38,2.08,-2.35,-2.96,-4.01]],[2021.25,[1.61,2.23,-2.53,-3.12]],[2021.35,[1.27,2.43,-2.38,-3.0,-4.3]],
[2021.45,[1.76,2.1,-2.29,-2.92]],[2021.55,[1.42,2.35,-2.55,-3.19,-3.89]],[2021.65,[1.31,2.03,-2.36,-2.99]],
[2021.75,[1.72,2.48,-2.47,-3.1,-4.48]],[2021.85,[1.25,2.17,-2.31,-2.87]],[2021.95,[1.6,2.29,-2.46,-3.06,-4.1]],
[2022.05,[1.78,2.36,-2.58,-3.21]],[2022.15,[1.37,2.12,-2.32,-2.94,-4.23]],[2022.25,[1.64,2.26,-2.51,-3.14]],
[2022.35,[1.28,2.4,-2.41,-3.03,-3.97]],[2022.45,[1.74,2.05,-2.27,-2.91]],[2022.55,[1.45,2.34,-2.56,-3.16,-4.41]],
[2022.65,[1.33,2.16,-2.36,-2.97]],[2022.75,[1.7,2.44,-2.49,-3.11,-4.06]],[2022.85,[1.26,2.2,-2.3,-2.88]],
[2022.95,[1.57,2.31,-2.45,-3.07,-4.34]],[2023.05,[1.81,2.37,-2.6,-3.2]],[2023.15,[1.38,2.1,-2.33,-2.95,-3.95]],
[2023.25,[1.62,2.22,-2.52,-3.13]],[2023.35,[1.29,2.42,-2.4,-3.02]]
];

// farther picks (brown / olive), [year, distance, residuals]
const farColumns = [
[2010.6,60,[2.95,1.82,1.21,0.64,0.12,-0.41]],[2010.7,80,[3.3,2.41,1.55,0.93]],[2010.8,45,[2.62,1.47,0.38,-0.73]],
[2010.9,70,[3.68,2.18,1.02,0.26]],[2011.0,55,[2.83,1.69,0.81,-0.18]],[2011.1,85,[3.42,2.57,1.34]],
[2011.2,60,[2.26,1.58,0.47,-0.52]],[2011.3,75,[3.06,1.93,0.72]],[2011.4,50,[2.71,1.39,0.55,-0.29]],
[2011.5,80,[3.55,2.34,1.12]],[2011.6,60,[2.49,1.76,0.96,0.21]],[2011.7,70,[3.21,2.05,1.28,0.43]],
[2011.8,55,[2.88,1.61,0.67,-0.61]],[2011.9,80,[3.37,2.63,1.45]],[2012.0,60,[2.52,1.85,0.89]],
[2012.1,75,[3.12,2.21,1.07,0.35]],[2012.2,50,[2.76,1.52,0.58,-0.38]],[2012.3,60,[1.98,1.18]],
[2012.4,80,[2.94,1.66,0.77]],[2012.5,55,[3.48,2.39,1.36,0.19]],[2012.6,70,[2.58,1.73,0.92]],
[2012.7,60,[3.15,2.02,1.24,0.51]],[2012.8,85,[2.81,1.57]],[2012.9,55,[3.39,2.28,0.84]],
[2013.0,65,[2.67,1.43,0.29]],[2013.2,80,[3.02,1.81]],[2013.4,55,[2.44,1.16,0.47]],
[2013.6,70,[2.86,1.62]],[2013.8,50,[2.21,0.98]],[2014.0,65,[3.11,1.74,0.62]],
[2014.2,80,[2.53,1.29]],[2014.4,55,[2.92,1.88,0.73]],[2014.6,70,[2.37,1.05]],
[2014.8,50,[2.68,1.53,0.41]],[2015.0,80,[3.23,1.97]],[2015.2,60,[2.46,1.31,0.56]],
[2015.4,75,[2.79,1.69]],[2015.6,50,[2.14,0.88]],[2015.8,65,[2.59,1.42]],
[2016.0,80,[3.04,1.86,0.95]],[2016.2,55,[2.73,1.58,0.36]],[2016.4,70,[3.27,2.11,1.19]],
[2016.6,60,[2.86,1.72,0.61]],[2016.9,80,[3.71,2.4]],[2017.0,55,[3.52,2.46,1.63,0.78,-0.32]],
[2017.1,75,[2.91,2.07,1.25]],[2017.2,60,[3.86,2.68,1.79,0.97,0.14]],[2017.3,85,[3.18,2.32,1.48]],
[2017.4,50,[2.77,1.91,1.06,0.28,-0.55]],[2017.5,70,[3.43,2.55,1.71]],[2017.6,60,[2.96,2.13,1.32,0.47]],
[2017.7,80,[3.61,2.74,1.87,0.9]],[2017.8,55,[3.08,2.24,1.39,0.58,-0.27]],[2017.9,75,[3.34,2.49,1.66]],
[2018.0,60,[2.85,2.03,1.17,0.33]],[2018.1,85,[3.73,2.61,1.82]],[2018.2,50,[3.19,2.36,1.5,0.69,-0.44]],
[2018.3,70,[3.5,2.7,1.92,1.03]],[2018.4,60,[2.99,2.16,1.35,0.52]],[2018.5,80,[3.92,2.83,2.01,1.2]],
[2018.6,55,[3.27,2.42,1.58,0.76,-0.18]],[2018.7,75,[3.58,2.52,1.74]],[2018.8,60,[3.05,2.26,1.44,0.63]],
[2018.9,85,[3.81,2.92,2.12]],[2019.0,50,[3.31,2.5,1.67,0.85,0.02]],[2019.1,80,[3.87,3.53,2.73,1.89]],
[2019.2,65,[3.13,2.33,1.52,0.71]],[2019.3,55,[2.87,2.06,1.23,0.39,-0.61]],[2019.4,80,[3.47,2.6,1.78]],
[2019.5,60,[3.02,2.2,1.38,0.57]],[2019.6,85,[3.65,2.78,1.95]],[2019.7,50,[3.24,2.41,1.6,0.79,-0.09]],
[2019.8,75,[3.38,2.55,1.72]],[2019.9,60,[2.89,2.08,1.27,0.45]],[2020.0,80,[3.56,2.69,1.86]],
[2020.1,55,[3.16,2.3,1.48,0.66,-0.36]],[2020.2,75,[3.42,2.58,1.75]],[2020.3,60,[2.94,2.12,1.31,0.49]],
[2020.4,85,[3.69,2.82,1.99]],[2020.5,50,[3.28,2.44,1.63,0.82,-0.14]],[2020.6,80,[3.5,2.63,1.81]],
[2020.7,65,[3.07,2.25,1.43,0.6]],[2020.8,55,[3.64,2.78,1.96,1.14,0.31]],[2020.9,80,[3.19,2.37,1.55]],
[2021.0,60,[2.86,2.04,1.22,0.4]],[2021.1,75,[3.71,2.68,1.84]],[2021.2,50,[3.36,2.51,1.7,0.88,-0.23]],
[2021.3,85,[3.03,2.19,1.37]],[2021.4,60,[3.6,2.76,1.93,1.1,0.27]],[2021.5,80,[3.25,2.43,1.61]],
[2021.6,55,[2.98,2.15,1.33,0.51]],[2021.7,75,[3.51,2.66,1.83]],[2021.8,60,[3.14,2.32,1.49,0.67]],
[2021.9,85,[3.77,2.89,2.06]],[2022.0,50,[3.33,2.49,1.68,0.86,-0.05]],[2022.1,80,[2.95,2.13,1.3]],
[2022.2,60,[3.46,2.62,1.8,0.97]],[2022.3,75,[3.09,2.27,1.45]],[2022.4,55,[2.8,1.98,1.16,0.34]],
[2022.5,85,[3.39,2.55,1.73]],[2022.6,60,[3.06,2.23,1.41,0.59]],[2022.7,80,[3.58,2.71,1.89]],
[2022.8,50,[3.21,2.38,1.56,0.74,-0.31]],[2022.9,75,[2.84,2.01]],[2023.0,60,[2.92,2.09,1.27,0.45]],
[2023.1,85,[3.35,2.52,1.69]],[2023.2,55,[2.97,2.15,1.32,0.5]],[2023.3,80,[2.73,1.91,1.08]],
[2023.4,60,[2.46,1.62,0.79]]
];

// isolated large residuals [year, seconds, distance]
const outliers = [
[2011.19,9.62,80],[2018.76,9.92,8],[2018.45,9.55,8],[2016.89,8.25,80],[2014.32,6.75,8],[2021.37,6.76,80],
[2016.15,6.14,8],[2017.32,5.78,8],[2016.88,5.61,8],[2022.2,5.7,30],[2021.99,5.55,8],[2011.87,5.69,8],
[2009.55,5.24,8],[2013.5,5.38,8],[2018.8,5.38,8],[2018.94,5.21,30],[2017.34,5.17,8],[2012.13,5.07,30],
[2013.0,4.92,8],[2019.96,5.1,8],[2020.45,5.18,8],[2017.82,4.93,30],[2017.84,4.8,30],[2020.89,4.82,80],
[2022.23,4.72,30],[2011.27,4.62,80],[2011.19,4.29,80],[2019.28,4.64,8],[2019.63,4.57,8],[2017.63,4.49,30],
[2020.61,4.45,8],[2021.17,4.33,8],[2018.17,4.55,60],[2018.75,4.39,60],[2018.64,4.31,30],[2018.15,4.22,60],
[2016.89,4.34,80],[2007.75,3.99,8],[2008.61,3.95,8],[2012.07,4.0,30],[2019.76,4.02,8],[2020.1,3.85,80],
[2021.13,3.71,8],[2022.37,3.69,30],[2022.9,3.68,30],[2023.36,3.71,30],[2015.6,3.79,30],[2014.44,3.49,8],
[2012.3,3.72,60],[2012.33,3.54,60],
[2007.5,-4.88,8],[2007.75,-4.93,8],[2007.97,-4.44,8],[2008.27,-4.73,8],[2007.75,-3.92,8],[2009.56,-4.9,8],
[2009.56,-6.28,8],[2009.56,-6.79,8],[2009.84,-4.54,8],[2010.26,-5.58,8],[2011.5,-4.86,8],[2011.5,-6.3,8],
[2012.02,-6.89,8],[2011.96,-7.48,8],[2011.96,-7.83,8],[2012.07,-8.07,8],[2011.96,-8.2,8],[2012.6,-4.67,8],
[2014.04,-5.29,8],[2014.48,-6.3,8],[2015.02,-7.52,8],[2015.61,-4.99,8],[2015.27,-5.2,8],[2016.6,-5.42,8],
[2016.68,-5.29,8],[2016.68,-5.17,8],[2016.88,-6.14,8],[2016.74,-4.81,8],[2017.87,-7.32,8],[2018.76,-7.78,8],
[2020.48,-6.05,8],[2021.17,-5.5,8],[2021.17,-5.45,8],[2021.17,-8.26,8],[2019.99,-4.75,8],[2020.43,-4.93,8],
[2020.07,-4.98,8],[2021.45,-4.32,8],[2022.29,-4.91,8],[2022.99,-4.93,8],[2023.42,-4.98,8],[2022.93,-4.65,8],
[2022.63,-4.32,8],[2023.42,-4.12,8],[2019.33,-4.84,8],[2019.71,-4.84,8],[2019.17,-4.42,8],[2022.04,-4.04,8],
[2016.86,-8.81,8],[2017.5,-9.03,8],[2016.55,-5.34,8],[2011.71,-6.9,8],[2009.54,-6.75,8]
];

// ---- build tables for the library ----
const picks = [];
for (const [yr, vals] of nearColumns) for (const v of vals) picks.push({year: yr, residual: v, distance: 8});
for (const [yr, vals] of coreColumns) for (const v of vals) picks.push({year: yr, residual: v, distance: 12});
for (const [yr, vals] of fringeColumns) for (const v of vals) picks.push({year: yr, residual: v, distance: 15});
for (const [yr, dist, vals] of farColumns) for (const v of vals) picks.push({year: yr, residual: v, distance: dist});
for (const [yr, v, dist] of outliers) picks.push({year: yr, residual: v, distance: dist});
const medians = monthlyMedians.map(([year, residual]) => ({year, residual}));
const streakRows = streaks.map(([year, low, high, distance]) => ({year, low, high, distance}));

const FONT = "'Liberation Sans', Arial, Helvetica, sans-serif";
const colorScale = {type: "linear", domain: distanceStops, range: distanceColors, interpolate: "rgb"};
const minus = d => d < 0 ? "\u2212" + Math.abs(d) : String(d);
const blank = () => "";

const main = Plot.plot({
  width: 1606, height: 1161,
  marginLeft: 135, marginRight: 231, marginTop: 113, marginBottom: 103,
  x: {domain: [1964, 2025]},
  y: {domain: [-10, 10]},
  color: colorScale,
  style: {fontFamily: FONT, background: "transparent", color: "#000", overflow: "visible"},
  marks: [
    Plot.ruleY([0], {stroke: "#8a8a8a", strokeWidth: 1.3}),
    Plot.ruleX(streakRows, {x: "year", y1: "low", y2: "high", stroke: "distance", strokeWidth: 2.2}),
    Plot.dot(picks, {x: "year", y: "residual", fill: "distance", r: 1.5}),
    Plot.dot(medians, {x: "year", y: "residual", fill: "#42d6ee", r: 4.3}),
    Plot.frame({stroke: "#000", strokeWidth: 3}),
    Plot.axisY({anchor: "left", ticks: yMajorTicks, tickSize: 12, tickPadding: 13, fontSize: 31.5, tickFormat: minus, strokeWidth: 1.5, label: null}),
    Plot.axisY({anchor: "left", ticks: yMinorTicks, tickSize: 6, tickFormat: blank, strokeWidth: 1.5, label: null}),
    Plot.axisY({anchor: "right", ticks: yMajorTicks, tickSize: 12, tickFormat: blank, strokeWidth: 1.5, label: null}),
    Plot.axisY({anchor: "right", ticks: yMinorTicks, tickSize: 6, tickFormat: blank, strokeWidth: 1.5, label: null}),
    Plot.axisX({anchor: "bottom", ticks: xTicks, tickSize: 12, tickFormat: blank, strokeWidth: 1.5, label: null}),
    Plot.axisX({anchor: "bottom", ticks: xTicks.slice(0, -1), tickSize: 0, tickPadding: 25, fontSize: 31.5, dx: 10, tickFormat: d => String(d), label: null}),
    Plot.axisX({anchor: "top", ticks: xTicks, tickSize: 12, tickFormat: blank, strokeWidth: 1.5, label: null}),
    Plot.text([chartTitle], {frameAnchor: "top", dy: -81, fontSize: 41, lineAnchor: "bottom"}),
    Plot.text([xLabel], {frameAnchor: "bottom", dy: 98, fontSize: 33, lineAnchor: "bottom"}),
    Plot.text([yLabel], {frameAnchor: "left", dx: -118, rotate: -90, fontSize: 33, textAnchor: "middle", lineAnchor: "middle"})
  ]
});
document.getElementById("main").appendChild(main);

const bar = Plot.plot({
  width: 200, height: 531,
  marginLeft: 27, marginRight: 128, marginTop: 29, marginBottom: 29,
  x: {domain: [0, 1], axis: null},
  y: {domain: [0, 180]},
  color: colorScale,
  style: {fontFamily: FONT, background: "transparent", color: "#000", overflow: "visible"},
  marks: [
    Plot.rect(d3.range(0, 180, 1), {x1: 0, x2: 1, y1: d => d, y2: d => d + 1, fill: d => d + 0.5, shapeRendering: "crispEdges"}),
    Plot.frame({stroke: "#000", strokeWidth: 2.5}),
    Plot.axisY({anchor: "right", ticks: colorTicks, tickSize: 12, tickPadding: 13, fontSize: 31, strokeWidth: 1.5, label: null}),
    Plot.text([colorLabel], {frameAnchor: "right", dx: 109, rotate: -90, fontSize: 32, textAnchor: "middle", lineAnchor: "middle"})
  ]
});
document.getElementById("bar").appendChild(bar);
</script>
</body></html>
